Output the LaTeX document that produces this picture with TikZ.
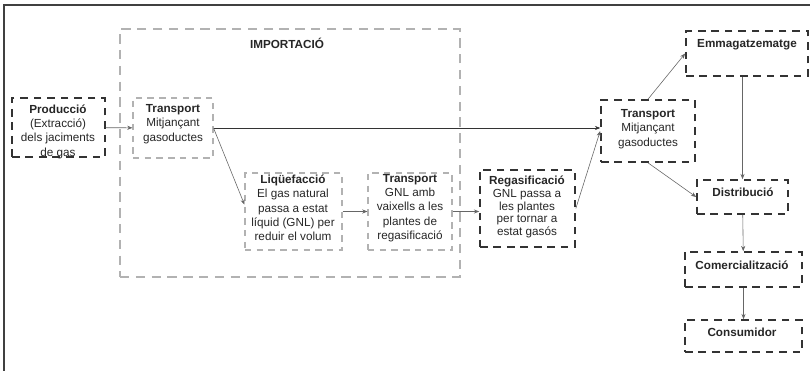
\documentclass[tikz,border=0pt]{standalone}
\usepackage{fontspec}
\setmainfont{Liberation Sans}
\usetikzlibrary{arrows.meta,fit}

\begin{document}
\begin{tikzpicture}[x=0.03cm,y=-0.03cm,
  etapa/.style={draw=black!80,line width=1.4pt,dash pattern=on 6.5pt off 5pt,inner sep=0pt},
  subetapa/.style={draw=black!30,line width=0.9pt,dash pattern=on 5.5pt off 4.5pt,inner sep=0pt},
  bloc/.style={draw=black!30,line width=1.1pt,dash pattern=on 8pt off 5.5pt,inner sep=0pt},
  rotul/.style={align=center,inner sep=0pt,text=black!85,font=\fontsize{10}{12.2}\selectfont},
  fletxa/.style={-{Stealth[length=4.5pt,width=3.5pt]},color=black!60,line width=0.5pt}]
\useasboundingbox (0,0) rectangle (810,371);
\draw[black!75,line width=1.3pt] (4,371) -- (4,5) -- (810,5);

\node[bloc,fit={(120,29) (460,277)}] (imp) {};
\node[rotul] (imp-t) at (287,43) {\textbf{IMPORTACIÓ}};

\node[etapa,fit={(12,98) (105,157)}] (prod) {};
\node[subetapa,fit={(133,98) (213,158)}] (t1) {};
\node[subetapa,fit={(245,173) (342,250)}] (liq) {};
\node[subetapa,fit={(368,173) (452,250)}] (t2) {};
\node[etapa,fit={(480,170) (575,247)}] (regas) {};
\node[etapa,fit={(601,100) (695,162)}] (t3) {};
\node[etapa,fit={(686,31) (808,76)}] (emmag) {};
\node[etapa,fit={(697,180) (788,214)}] (dist) {};
\node[etapa,fit={(685,252) (802,287)}] (comerc) {};
\node[etapa,fit={(685,320) (802,352)}] (cons) {};

\node[rotul] (prod-t) at (58,131.5) {\textbf{Producció}\\(Extracció)\\dels jaciments\\de gas};
\node[rotul] (t1-t) at (173,124) {\textbf{Transport}\\Mitjançant\\gasoductes};
\node[rotul] (liq-t) at (293,208) {\textbf{Liqüefacció}\\El gas natural\\passa a estat\\líquid (GNL) per\\reduir el volum};
\node[rotul] (t2-t) at (410,208) {\textbf{Transport}\\GNL amb\\vaixells a les\\plantes de\\regasificació};
\node[rotul,font=\fontsize{10}{10.8}\selectfont] (regas-t) at (527,207) {\textbf{Regasificació}\\GNL passa a\\les plantes\\per tornar a\\estat gasós};
\node[rotul] (t3-t) at (648,129) {\textbf{Transport}\\Mitjançant\\gasoductes};
\node[rotul] (emmag-t) at (747,45) {\textbf{Emmagatzematge}};
\node[rotul] (dist-t) at (743,192) {\textbf{Distribució}};
\node[rotul] (comerc-t) at (742,265) {\textbf{Comercialització}};
\node[rotul] (cons-t) at (742,332) {\textbf{Consumidor}};

\path[fletxa] (prod) edge (t1)
  (t1.east) edge[black!80] (t3.west |- t1.east)
  (t1.east) edge (liq.172)
  (liq) edge (t2)
  (t2.east) edge (regas.west |- t2.east)
  (regas.east) edge (t3.west)
  (t3.north) edge (emmag.west)
  (t3.south) edge (dist.west)
  (dist.north |- emmag.south) edge (dist.north)
  (dist) edge (comerc)
  (comerc) edge (cons);
\end{tikzpicture}
\end{document}
